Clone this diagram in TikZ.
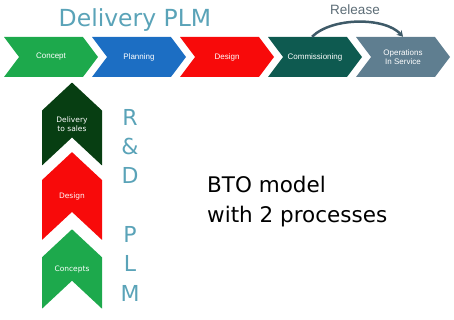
\documentclass[tikz,border=0pt]{standalone}
\usepackage{fontspec}
\setmainfont{DejaVu Sans}
\newfontfamily\arialfont{Liberation Sans}
\usetikzlibrary{arrows.meta, shapes.symbols}
\definecolor{plmteal}{HTML}{5AA3B8}
\definecolor{conceptgreen}{HTML}{1DA94C}
\definecolor{planblue}{HTML}{1C6EC3}
\definecolor{designred}{HTML}{F80A0A}
\definecolor{commteal}{HTML}{0E5A50}
\definecolor{opsslate}{HTML}{5F7E90}
\definecolor{salesgreen}{HTML}{073E12}
\definecolor{releasegray}{HTML}{5C6C76}
\definecolor{arcslate}{HTML}{3E5A68}

\begin{document}
\begin{tikzpicture}[x=1pt, y=-1pt,
    phase/.style={signal, signal to=east, signal from=west, signal pointer angle=106,
        minimum width=94pt, minimum height=40pt, inner sep=0pt, text=white,
        font=\arialfont\fontsize{8}{9.5}\selectfont, align=center},
    stage/.style={signal, signal to=north, signal from=south, signal pointer angle=94,
        minimum width=60pt, minimum height=56pt, inner sep=0pt, text=white,
        font=\fontsize{7.5}{9.5}\selectfont, align=center}]
    \useasboundingbox (0,0) rectangle (454,320);

    % Delivery PLM phases
    \node[phase, fill=conceptgreen] (concept) at (51,57) {Concept};
    \node[phase, fill=planblue] (planning) at (139,57) {Planning};
    \node[phase, fill=designred] (design) at (227,57) {Design};
    \node[phase, fill=commteal] (comm) at (315,57) {Commissioning};
    \node[phase, fill=opsslate] (ops) at (403,57) {Operations\\In Service};

    \node[anchor=base, text=plmteal, font=\fontsize{23.5}{28}\selectfont] (title) at (135,27) {Delivery PLM};

    % Release
    \draw[-{Stealth[length=6pt, width=7pt]}, line width=2.5pt, arcslate]
        ([xshift=-3pt]comm.north) .. controls (332,17) and (385,17) .. (ops.north);
    \node[anchor=base, text=releasegray, font=\arialfont\fontsize{13.5}{16}\selectfont] (release) at (355,15) {Release};

    % R&D PLM stages
    \node[stage, fill=salesgreen] (sales) at (72,124) {Delivery\\to sales};
    \node[stage, fill=designred] (rddesign) at (72,196) {Design};
    \node[stage, fill=conceptgreen] (concepts) at (72,269) {Concepts};

    \node[anchor=north, inner sep=0pt, align=center, text=plmteal, font=\fontsize{22}{29.3}\selectfont]
        (rdplm) at (130,109) {R\\\&\\D\\[29.3pt]P\\L\\M};

    \node[anchor=north west, inner sep=0pt, align=left, font=\fontsize{21.5}{30}\selectfont]
        (bto) at (207,176) {BTO model\\with 2 processes};
\end{tikzpicture}
\end{document}
